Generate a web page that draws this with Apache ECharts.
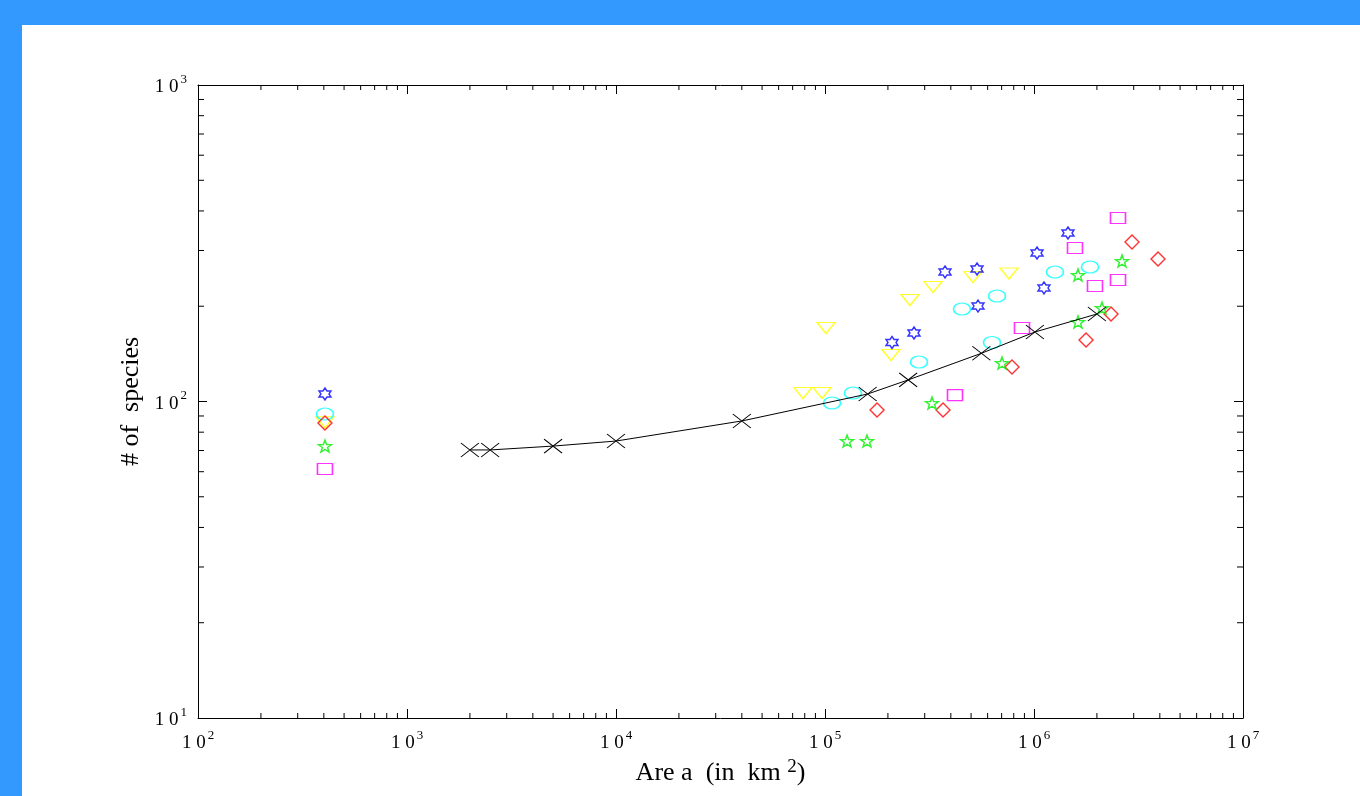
<!DOCTYPE html>
<html>
<head>
<meta charset="utf-8">
<script src="https://cdn.jsdelivr.net/npm/echarts@6/dist/echarts.min.js"></script>
<style>
  html, body { margin: 0; padding: 0; width: 1360px; height: 796px; background: #3399ff; overflow: hidden; }
  #chart { position: absolute; left: 22px; top: 25px; width: 1338px; height: 771px; background: #ffffff; }
</style>
</head>
<body>
<div id="chart"></div>
<script>
// ---- data (x = area in km^2, y = # of species) ----
const blueStars = [[405,105.6],[209200,153.6],[266600,164.6],[375200,256.6],[533800,262.2],[539700,200.3],[1034000,294.6],[1116000,228.4],[1454000,340.7]];
const yellowTriangles = [[405,86],[78470,106.4],[96740,106.4],[101100,170.7],[206900,140.3],[255100,209.3],[328700,230],[510600,247.4],[759400,253.8]];
const cyanEllipses = [[405,91.3],[108000,98.9],[136100,106.4],[281700,133.3],[452300,196],[629500,153.6],[665300,215.4],[1260000,256.6],[1853000,266]];
const redDiamonds = [[405,85.5],[177400,94],[367000,94],[784800,128.5],[1774000,156.4],[2336000,189],[2944000,319],[3921000,282]];
const greenStars = [[405,72.3],[127500,75],[158800,75],[325100,98.9],[702900,132.3],[1624000,178.3],[1624000,251],[2115000,197.4],[2637000,277.9]];
const magentaSquares = [[405,61.2],[418800,104.8],[876100,170.7],[1571000,305.5],[1958000,231.7],[2523000,380],[2523000,242]];
const blackCurve = [[2000,70.3],[2500,70.3],[5000,72.3],[10000,75],[40000,86.8],[160000,105.6],[250000,117],[560000,142],[1010000,165.8],[2000000,189]];

const xMin = 100, xMax = 1e7;
const yMin = 10, yMax = 1000;
const xMinorTicks = [];
for (let d = 2; d < 7; d++) for (let k = 2; k <= 9; k++) xMinorTicks.push(k * Math.pow(10, d));
const yMinorTicks = [];
for (let d = 1; d < 3; d++) for (let k = 2; k <= 9; k++) yMinorTicks.push(k * Math.pow(10, d));

// ---- symbols ----
const SYM_HEX = 'path://M0,-10 L2.89,-5 L8.66,-5 L5.77,0 L8.66,5 L2.89,5 L0,10 L-2.89,5 L-8.66,5 L-5.77,0 L-8.66,-5 L-2.89,-5 Z';
const SYM_STAR = 'path://M0,-10 L2.351,-3.236 L9.511,-3.090 L3.804,1.236 L5.878,8.090 L0,4 L-5.878,8.090 L-3.804,1.236 L-9.511,-3.090 L-2.351,-3.236 Z';
const SYM_TRI = 'path://M-10,-6 L10,-6 L0,6 Z';
const SYM_ELL = 'path://M-10,0 A10,10 0 1,0 10,0 A10,10 0 1,0 -10,0 Z';
const SYM_X = 'path://M-10,-10 L10,10 M10,-10 L-10,10';

const serif = '"Liberation Serif", "DejaVu Serif", serif';
const rich = {
  b: { fontFamily: serif, fontSize: 19, color: '#000', lineHeight: 24, verticalAlign: 'bottom' },
  s: { fontFamily: serif, fontSize: 13, color: '#000', lineHeight: 24, verticalAlign: 'top', padding: [0, 0, 0, 2] }
};
function powLabel(v) {
  const e = Math.round(Math.log10(v));
  return '{b|1 0}{s|' + e + '}';
}

function hollow(name, data, symbol, size, color) {
  return {
    name, type: 'scatter', data, symbol, symbolSize: size,
    itemStyle: { color: 'rgba(0,0,0,0)', borderColor: color, borderWidth: 1.4 },
    emphasis: { disabled: true }, silent: true, z: 3
  };
}

const chart = echarts.init(document.getElementById('chart'));
const option = {
  animation: false,
  backgroundColor: '#ffffff',
  grid: { left: 176, top: 60, right: 117, bottom: 78, containLabel: false },
  xAxis: [{
    type: 'log', logBase: 10, min: xMin, max: xMax, splitNumber: 5, position: 'bottom',
    axisLine: { show: true, lineStyle: { color: '#000', width: 1 } },
    axisTick: { show: true, inside: true, length: 9, lineStyle: { color: '#000' } },
    splitLine: { show: false },
    axisLabel: { formatter: powLabel, rich: rich, margin: 11, color: '#000' },
    name: '{t|Are a  (in  km }{u|2}{t|)}',
    nameLocation: 'middle', nameGap: 40,
    nameTextStyle: {
      rich: {
        t: { fontFamily: serif, fontSize: 26, color: '#000', lineHeight: 28, verticalAlign: 'bottom' },
        u: { fontFamily: serif, fontSize: 19, color: '#000', lineHeight: 28, verticalAlign: 'top' }
      }
    }
  }, {
    type: 'log', logBase: 10, min: xMin, max: xMax, splitNumber: 5, position: 'top',
    axisLine: { show: true, lineStyle: { color: '#000', width: 1 } },
    axisTick: { show: true, inside: true, length: 9, lineStyle: { color: '#000' } },
    splitLine: { show: false }, axisLabel: { show: false }
  }],
  yAxis: [{
    type: 'log', logBase: 10, min: yMin, max: yMax, splitNumber: 2, position: 'left',
    axisLine: { show: true, lineStyle: { color: '#000', width: 1 } },
    axisTick: { show: true, inside: true, length: 9, lineStyle: { color: '#000' } },
    splitLine: { show: false },
    axisLabel: { formatter: powLabel, rich: rich, margin: 11, color: '#000' },
    name: '# of  species', nameLocation: 'middle', nameGap: 54,
    nameTextStyle: { fontFamily: serif, fontSize: 26, color: '#000' }
  }, {
    type: 'log', logBase: 10, min: yMin, max: yMax, splitNumber: 2, position: 'right',
    axisLine: { show: true, lineStyle: { color: '#000', width: 1 } },
    axisTick: { show: true, inside: true, length: 9, lineStyle: { color: '#000' } },
    splitLine: { show: false }, axisLabel: { show: false }
  }],
  series: [
    {
      type: 'custom', silent: true, z: 1,
      data: xMinorTicks.map(v => [v, yMin]),
      renderItem: function (params, api) {
        const p = api.coord([api.value(0), yMin]);
        const cs = params.coordSys;
        return { type: 'group', children: [
          { type: 'line', shape: { x1: p[0], y1: cs.y + cs.height, x2: p[0], y2: cs.y + cs.height - 5 }, style: { stroke: '#000', lineWidth: 1 } },
          { type: 'line', shape: { x1: p[0], y1: cs.y, x2: p[0], y2: cs.y + 5 }, style: { stroke: '#000', lineWidth: 1 } }
        ]};
      }
    },
    {
      type: 'custom', silent: true, z: 1,
      data: yMinorTicks.map(v => [xMin, v]),
      renderItem: function (params, api) {
        const p = api.coord([xMin, api.value(1)]);
        const cs = params.coordSys;
        return { type: 'group', children: [
          { type: 'line', shape: { x1: cs.x, y1: p[1], x2: cs.x + 6, y2: p[1] }, style: { stroke: '#000', lineWidth: 1 } },
          { type: 'line', shape: { x1: cs.x + cs.width, y1: p[1], x2: cs.x + cs.width - 6, y2: p[1] }, style: { stroke: '#000', lineWidth: 1 } }
        ]};
      }
    },
    hollow('yellow', yellowTriangles, SYM_TRI, [18, 11], '#ffff00'),
    hollow('cyan', cyanEllipses, SYM_ELL, [17, 12], '#00ffff'),
    hollow('blue', blueStars, SYM_HEX, [12, 12], '#0000ff'),
    hollow('red', redDiamonds, 'diamond', [14, 14], '#ff0000'),
    hollow('green', greenStars, SYM_STAR, [13, 12], '#00ee00'),
    hollow('magenta', magentaSquares, 'rect', [15, 11], '#ff00ff'),
    {
      name: 'fit', type: 'line', data: blackCurve, smooth: false,
      symbol: SYM_X, symbolSize: [18, 14], showAllSymbol: true,
      lineStyle: { color: '#000', width: 1 },
      itemStyle: { color: '#000', borderColor: '#000', borderWidth: 1 },
      emphasis: { disabled: true }, silent: true, z: 4
    }
  ]
};
chart.setOption(option);
</script>
</body>
</html>
